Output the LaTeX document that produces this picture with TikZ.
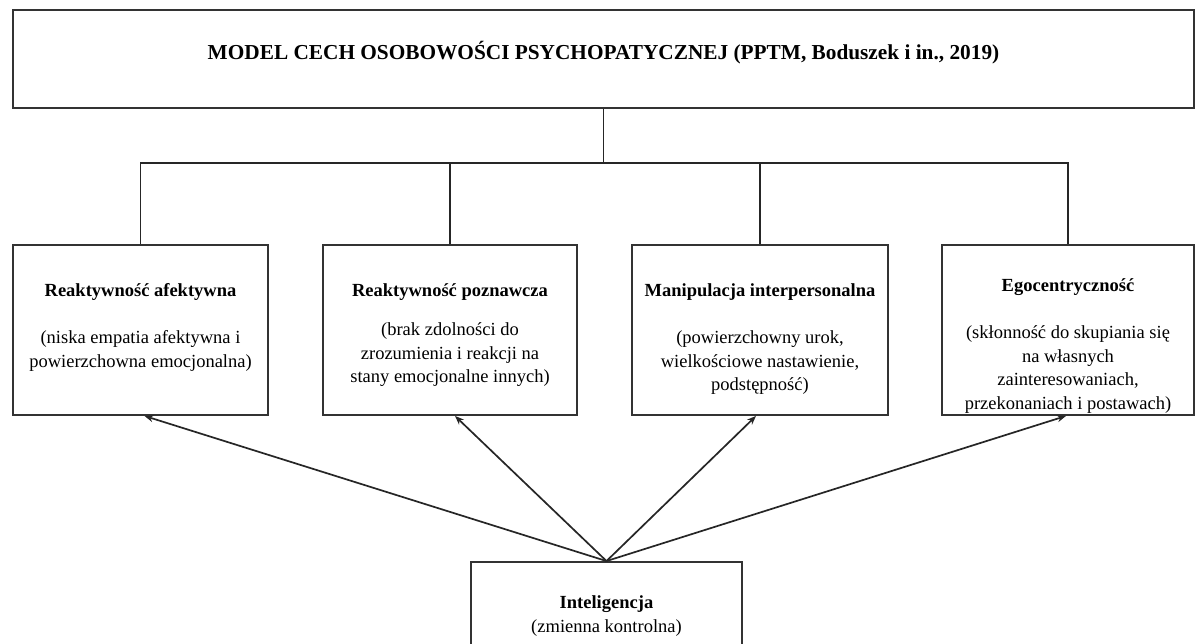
\documentclass[tikz,border=0pt]{standalone}
\usepackage{fontspec}
\setmainfont{Liberation Serif}
\usetikzlibrary{arrows.meta}
\begin{document}
\begin{tikzpicture}[x=1pt,y=-1pt,
  box/.style={draw=black!80, line width=1.9pt, rectangle, inner sep=0pt},
  txt/.style={inner sep=0pt, align=center, font=\fontsize{18.5}{23.5}\selectfont},
  link/.style={draw=black!85, line width=1.8pt},
  arr/.style={draw=black!85, line width=1.7pt, -{Stealth[length=9pt,width=7pt]}}]
\useasboundingbox (0,0) rectangle (1195,644);
\clip (0,0) rectangle (1195,644);
\fill[white] (0,0) rectangle (1195,644);
\node[box, minimum width=1181pt, minimum height=98pt] (top) at (603.5,59) {};
\node[txt, font=\fontsize{21.3}{25}\selectfont\bfseries, yshift=6.5pt] (ttop) at (top)
  {MODEL CECH OSOBOWOŚCI PSYCHOPATYCZNEJ (PPTM, Boduszek i in., 2019)};
\node[box, minimum width=255pt, minimum height=170pt] (b1) at (140.5,330) {};
\node[box, minimum width=254pt, minimum height=170pt] (b2) at (450,330) {};
\node[box, minimum width=256pt, minimum height=170pt] (b3) at (760,330) {};
\node[box, minimum width=252pt, minimum height=170pt] (b4) at (1068,330) {};
\node[box, minimum width=271pt, minimum height=104pt] (b5) at (606.5,614) {};
\node[txt, yshift=3pt] (t1) at (b1)
  {\textbf{Reaktywność afektywna}\\[24pt](niska empatia afektywna i\\powierzchowna emocjonalna)};
\node[txt, yshift=-5pt] (t2) at (b2)
  {\textbf{Reaktywność poznawcza}\\[16pt](brak zdolności do\\zrozumienia i reakcji na\\stany emocjonalne innych)};
\node[txt, yshift=-9pt] (t3) at (b3)
  {\textbf{Manipulacja interpersonalna}\\[24pt](powierzchowny urok,\\wielkościowe nastawienie,\\podstępność)};
\node[txt, yshift=-16pt] (t4) at (b4)
  {\textbf{Egocentryczność}\\[24pt](skłonność do skupiania się\\na własnych\\zainteresowaniach,\\przekonaniach i postawach)};
\node[txt, yshift=-2pt] (t5) at (b5)
  {\textbf{Inteligencja}\\(zmienna kontrolna)};
\coordinate (bus) at (603.5,163);
\draw[link] (top.south) -- (top.south |- bus);
\draw[link] (b1.north) -- (b1.north |- bus) -- (b4.north |- bus) -- (b4.north);
\draw[link] (b2.north) -- (b2.north |- bus);
\draw[link] (b3.north) -- (b3.north |- bus);
\draw[arr] (b5.north) -- ([xshift=4pt]b1.south);
\draw[arr] (b5.north) -- ([xshift=5pt]b2.south);
\draw[arr] (b5.north) -- ([xshift=-4pt]b3.south);
\draw[arr] (b5.north) -- ([xshift=-2pt]b4.south);
\end{tikzpicture}
\end{document}
